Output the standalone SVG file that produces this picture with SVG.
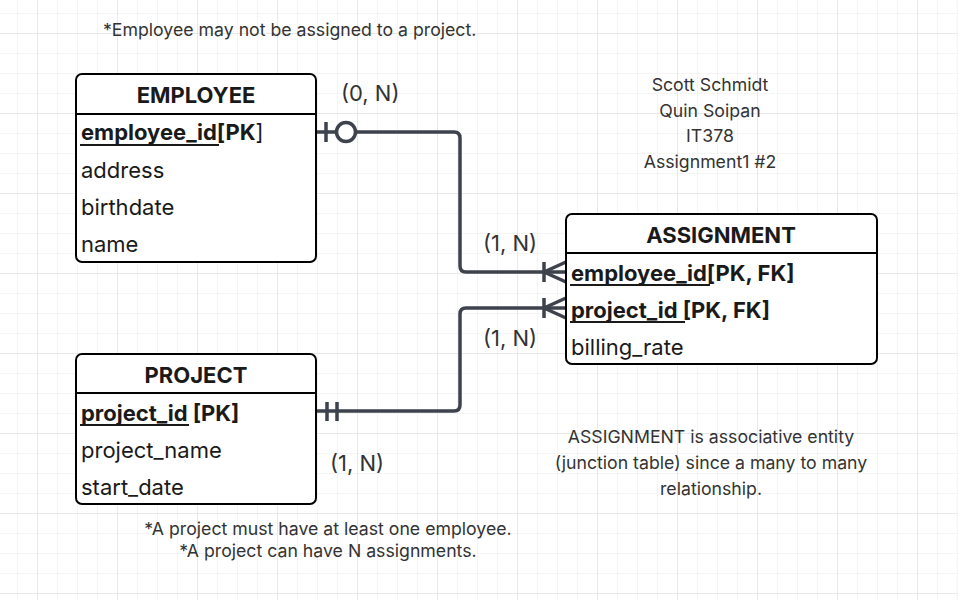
<svg xmlns="http://www.w3.org/2000/svg" width="958" height="600" viewBox="0 0 958 600">
<defs>
<pattern id="minor" x="17" y="13" width="20" height="20" patternUnits="userSpaceOnUse">
<path d="M0,0 V20 M0,0 H20" fill="none" stroke="#ebebeb" stroke-width="1"/>
</pattern>
<pattern id="major" x="37" y="33" width="80" height="80" patternUnits="userSpaceOnUse">
<path d="M0,0 V80 M0,0 H80" fill="none" stroke="#dedede" stroke-width="1"/>
</pattern>
</defs>
<style>
.box{fill:#fff;stroke:#000;stroke-width:2}
.sep{stroke:#000;stroke-width:2}
.hd{font-family:Inter,"Liberation Sans",sans-serif;font-size:22px;font-weight:700;fill:#1a1a1a;text-anchor:middle}
.row{font-family:Inter,"Liberation Sans",sans-serif;font-size:22px;fill:#1a1a1a}
.b{font-weight:700}
.ul{stroke:#1a1a1a;stroke-width:2}
.note{font-family:Inter,"Liberation Sans",sans-serif;font-size:17.7px;fill:#333}
.lbl{font-family:Inter,"Liberation Sans",sans-serif;font-size:22px;fill:#333}
.c{text-anchor:middle}
.con{fill:none;stroke:#3d424c;stroke-width:3.5;stroke-linejoin:round}
</style>
<rect width="958" height="600" fill="#fff"/>
<rect width="958" height="600" fill="url(#minor)"/>
<rect width="958" height="600" fill="url(#major)"/>

<g id="connectors">
<path class="con" d="M316,132 H454 Q460,132 460,138 V266 Q460,272 466,272 H566"/>
<path class="con" d="M326,122 V142"/>
<circle cx="346" cy="132" r="9.5" fill="#fff" stroke="#3d424c" stroke-width="3.5"/>
<path class="con" d="M544,262 V282 M566,262 L544,272 L566,282"/>
<path class="con" d="M316,411 H454 Q460,411 460,405 V314 Q460,308 466,308 H566"/>
<path class="con" d="M327,402 V421 M337,402 V421"/>
<path class="con" d="M544,298 V318 M566,298 L544,308 L566,318"/>
</g>

<g id="employee">
<rect class="box" x="76" y="74" width="240" height="188" rx="6"/>
<line class="sep" x1="76" y1="114" x2="316" y2="114"/>
<text class="hd" x="196" y="103">EMPLOYEE</text>
<text class="row" x="81" y="140"><tspan class="b">employee_id[PK</tspan>]</text>
<line class="ul" x1="80" y1="145" x2="219" y2="145"/>
<text class="row" x="81" y="178">address</text>
<text class="row" x="81" y="215">birthdate</text>
<text class="row" x="81" y="252">name</text>
</g>

<g id="assignment">
<rect class="box" x="566" y="214" width="311" height="150" rx="6"/>
<line class="sep" x1="566" y1="253" x2="877" y2="253"/>
<text class="hd" x="721" y="243">ASSIGNMENT</text>
<text class="row b" x="571" y="281">employee_id[PK, FK]</text>
<line class="ul" x1="570" y1="285" x2="710" y2="285"/>
<text class="row b" x="571" y="318">project_id [PK, FK]</text>
<line class="ul" x1="570" y1="322" x2="685" y2="322"/>
<text class="row" x="571" y="355">billing_rate</text>
</g>

<g id="project">
<rect class="box" x="76" y="354" width="240" height="150" rx="6"/>
<line class="sep" x1="76" y1="393" x2="316" y2="393"/>
<text class="hd" x="196" y="383">PROJECT</text>
<text class="row b" x="81" y="421">project_id [PK]</text>
<line class="ul" x1="80" y1="425" x2="189" y2="425"/>
<text class="row" x="81" y="458">project_name</text>
<text class="row" x="81" y="495">start_date</text>
</g>

<g id="labels">
<text class="lbl" x="341" y="101">(0, N)</text>
<text class="lbl" x="483" y="251">(1, N)</text>
<text class="lbl" x="483" y="346">(1, N)</text>
<text class="lbl" x="330" y="471">(1, N)</text>
</g>

<g id="notes">
<text class="note" x="103" y="36">*Employee may not be assigned to a project.</text>
<text class="note c" x="710" y="91">Scott Schmidt</text>
<text class="note c" x="710" y="117">Quin Soipan</text>
<text class="note c" x="710" y="142">IT378</text>
<text class="note c" x="710" y="168">Assignment1 #2</text>
<text class="note c" x="711" y="443">ASSIGNMENT is associative entity</text>
<text class="note c" x="711" y="469">(junction table) since a many to many</text>
<text class="note c" x="711" y="495">relationship.</text>
<text class="note c" x="328" y="535">*A project must have at least one employee.</text>
<text class="note c" x="328" y="557">*A project can have N assignments.</text>
</g>
</svg>
